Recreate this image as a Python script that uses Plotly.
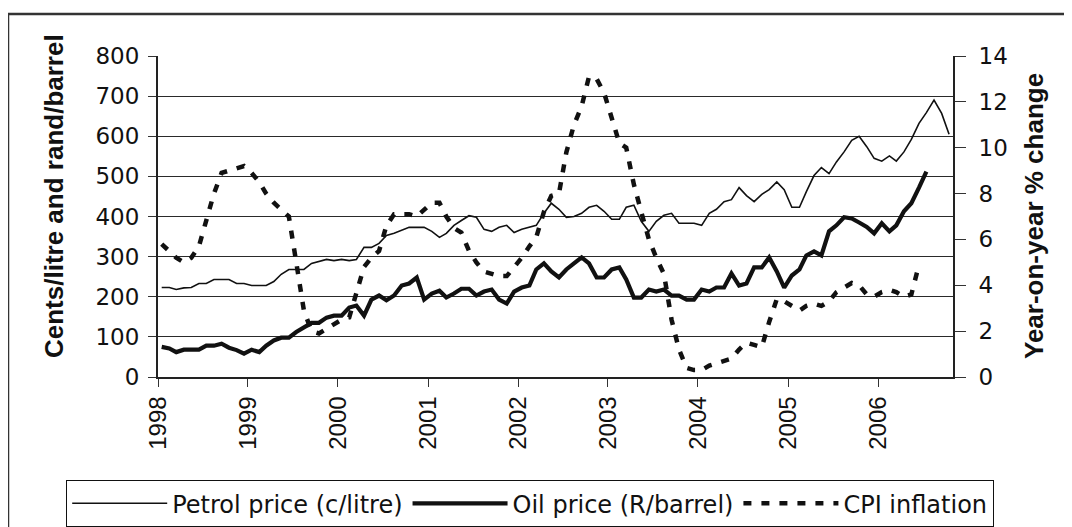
import pandas as pd
import plotly.graph_objects as go

# ---- data (monthly, Jan 1998 onwards) ----
months = (pd.date_range("1998-01-01", periods=106, freq="MS") + pd.Timedelta(days=15)).strftime("%Y-%m-%d").tolist()

petrol = [223, 223, 218, 222, 223, 233, 233, 243, 243, 243, 233, 233,
          228, 228, 228, 238, 256, 268, 268, 268, 283, 288, 293, 290,
          293, 290, 293, 323, 323, 333, 353, 358, 366, 373, 373, 373,
          363, 348, 358, 378, 390, 402, 398, 368, 363, 373, 378, 360,
          368, 373, 378, 408, 433, 418, 398, 400, 408, 423, 428, 413,
          393, 393, 423, 428, 388, 363, 388, 403, 408, 383, 383, 383,
          378, 408, 418, 437, 442, 472, 452, 437, 455, 467, 486, 467,
          423, 423, 462, 502, 522, 507, 536, 561, 590, 600, 574, 545,
          538, 551, 538, 561, 592, 632, 659, 690, 657, 605]

oil = [75, 71, 62, 68, 68, 68, 78, 78, 83, 73, 67, 58,
       68, 62, 78, 91, 98, 98, 112, 123, 135, 135, 148, 153,
       153, 173, 178, 153, 193, 203, 191, 203, 228, 233, 248, 193,
       208, 215, 198, 208, 220, 220, 203, 213, 218, 193, 183, 213,
       223, 228, 268, 283, 263, 248, 268, 283, 298, 283, 248, 248,
       268, 273, 243, 198, 198, 218, 213, 218, 203, 203, 193, 193,
       218, 213, 223, 223, 258, 228, 233, 273, 273, 298, 263, 223,
       253, 268, 303, 313, 303, 363, 378, 398, 395, 385, 374, 358,
       383, 363, 378, 413, 433, 472, 512]

cpi = [5.8, 5.5, 5.2, 5.0, 5.2, 5.7, 6.8, 8.0, 8.9, 9.0, 9.1, 9.2,
       8.9, 8.5, 8.0, 7.6, 7.3, 7.0, 5.0, 2.9, 2.0, 1.9, 2.1, 2.3,
       2.5, 2.6, 3.6, 4.8, 5.2, 5.5, 6.6, 7.1, 7.1, 7.1, 7.0, 7.3,
       7.6, 7.6, 7.0, 6.5, 6.3, 5.5, 5.0, 4.6, 4.5, 4.4, 4.4, 4.8,
       5.2, 5.7, 6.1, 7.2, 7.9, 8.0, 9.8, 11.0, 11.8, 13.1, 13.0, 12.4,
       11.3, 10.2, 10.0, 8.4, 7.2, 6.0, 5.2, 4.5, 2.5, 1.2, 0.4, 0.3,
       0.3, 0.5, 0.6, 0.7, 0.8, 1.2, 1.5, 1.4, 1.3, 2.4, 3.4, 3.3,
       3.1, 2.9, 3.1, 3.2, 3.1, 3.3, 3.7, 3.9, 4.1, 4.0, 3.6, 3.5,
       3.7, 3.8, 3.7, 3.5, 3.6, 4.9]

year_ticks = [f"{y}-01-01" for y in range(1998, 2007)]
year_labels = [str(y) for y in range(1998, 2007)]

names = ["Petrol price (c/litre)", "Oil price (R/barrel)", "CPI inflation"]
left_title = "Cents/litre and rand/barrel"
right_title = "Year-on-year % change"

# ---- figure geometry (page has an 8px body margin) ----
OFF = 8
W, H = 1072 - OFF, 527 - OFF
L, R, T, B = 158 - OFF, 119, 56 - OFF, 150
pw, ph = W - L - R, H - T - B


def px_x(p):
    return (p - OFF - L) / pw


def px_y(p):
    return (H - B - (p - OFF)) / ph


fig = go.Figure()
fig.add_trace(go.Scatter(x=months[:len(petrol)], y=petrol, name=names[0], mode="lines",
                         line=dict(color="#111111", width=1.6)))
fig.add_trace(go.Scatter(x=months[:len(oil)], y=oil, name=names[1], mode="lines",
                         line=dict(color="#111111", width=4.2)))
fig.add_trace(go.Scatter(x=months[:len(cpi)], y=cpi, name=names[2], mode="lines", yaxis="y2",
                         line=dict(color="#111111", width=4.5, dash="8px,10px")))

tick_font = dict(family="DejaVu Sans", size=23, color="#111111")

fig.update_layout(
    width=W, height=H,
    margin=dict(l=L, r=R, t=T, b=B, autoexpand=False),
    paper_bgcolor="white", plot_bgcolor="white",
    showlegend=True,
    xaxis=dict(
        type="date", range=["1998-01-01", "2006-11-01"],
        tickmode="array", tickvals=year_ticks, ticktext=year_labels,
        tickangle=-90, ticks="outside", ticklen=8, tickwidth=1.2, tickcolor="#333333",
        tickfont=dict(family="Liberation Sans", size=24, color="#111111"),
        ticklabelstandoff=0,
        showline=True, linecolor="#222222", linewidth=1.5,
        showgrid=False, zeroline=False,
    ),
    yaxis=dict(
        range=[0, 800], dtick=100, tick0=0,
        ticks="outside", ticklen=8, tickwidth=1.2, tickcolor="#333333",
        tickfont=tick_font, ticklabelstandoff=4,
        showline=True, linecolor="#222222", linewidth=2,
        showgrid=True, gridcolor="#2a2a2a", gridwidth=1.2,
        zeroline=False,
    ),
    yaxis2=dict(
        range=[0, 14], dtick=2, tick0=0, overlaying="y", side="right", anchor="x",
        ticks="outside", ticklen=11, tickwidth=1.2, tickcolor="#333333",
        tickfont=tick_font, ticklabelstandoff=8,
        showline=True, linecolor="#222222", linewidth=2,
        showgrid=False, zeroline=False,
    ),
    yaxis3=dict(
        range=[0, 14], dtick=2, tick0=0, overlaying="y", side="right", anchor="x",
        ticks="inside", ticklen=9, tickwidth=1.2, tickcolor="#333333",
        showticklabels=False, showline=False, showgrid=False, zeroline=False,
    ),
    legend=dict(
        orientation="h", x=px_x(66), y=px_y(480), xanchor="left", yanchor="top",
        bordercolor="#111111", borderwidth=1.2, bgcolor="white",
        font=dict(family="DejaVu Sans", size=24, color="#111111"),
        itemwidth=95, tracegroupgap=0,
    ),
    annotations=[
        dict(text=f"<b>{left_title}</b>", textangle=-90, xref="paper", yref="paper",
             x=px_x(54), y=px_y(196), xanchor="center", yanchor="middle", showarrow=False,
             font=dict(family="Liberation Sans", size=26, color="#111111")),
        dict(text=f"<b>{right_title}</b>", textangle=-90, xref="paper", yref="paper",
             x=px_x(1034), y=px_y(216), xanchor="center", yanchor="middle", showarrow=False,
             font=dict(family="Liberation Sans", size=26, color="#111111")),
    ],
    shapes=[
        dict(type="rect", xref="paper", yref="paper",
             x0=px_x(8), x1=px_x(1085), y0=px_y(545), y1=px_y(14),
             line=dict(color="#333333", width=2.5), fillcolor="rgba(0,0,0,0)", layer="below"),
    ],
)

fig.write_html("out.html")
